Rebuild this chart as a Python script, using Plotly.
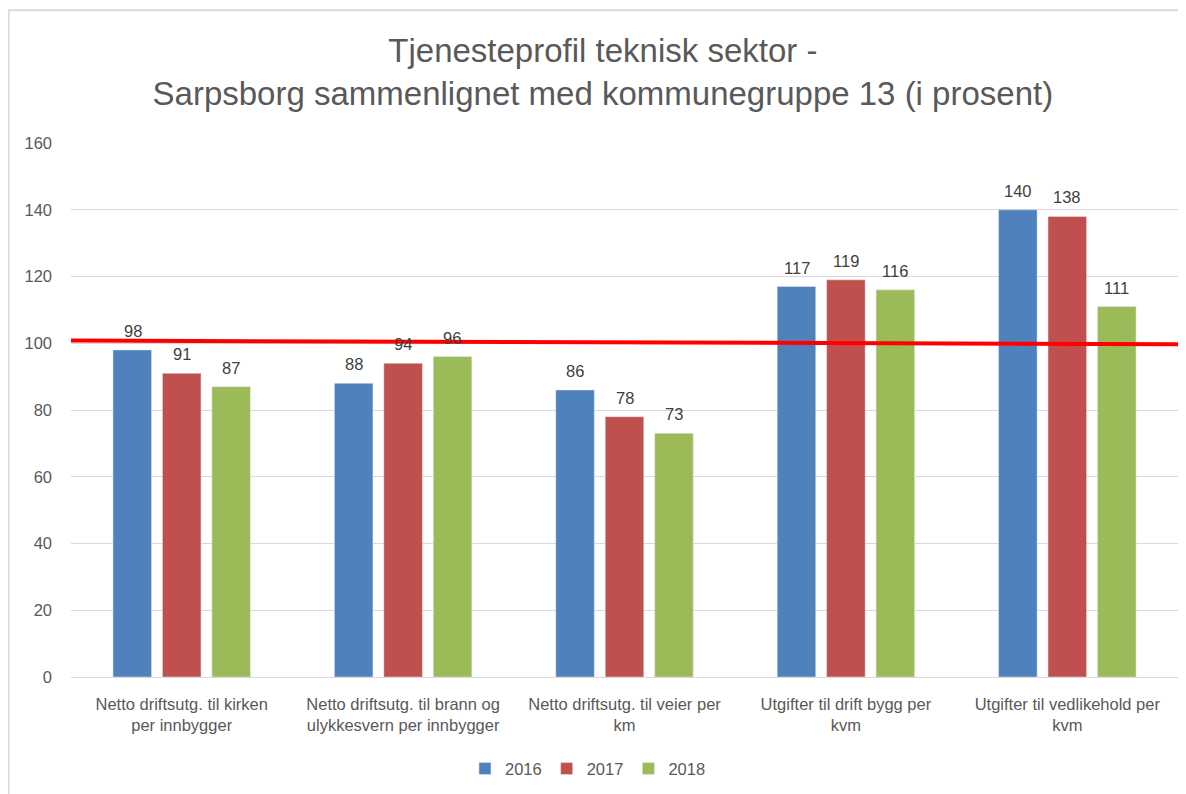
import plotly.graph_objects as go

# Data
categories = [
    "Netto driftsutg. til kirken<br>per innbygger",
    "Netto driftsutg. til brann og<br>ulykkesvern per innbygger",
    "Netto driftsutg. til veier per<br>km",
    "Utgifter til drift bygg per<br>kvm",
    "Utgifter til vedlikehold per<br>kvm",
]
years = ["2016", "2017", "2018"]
values_2016 = [98, 88, 86, 117, 140]
values_2017 = [91, 94, 78, 119, 138]
values_2018 = [87, 96, 73, 116, 111]
colors = ["#4F81BD", "#C0504D", "#9BBB59"]

# hand-drawn reference line (left end, right end), roughly at 100
red_line_y = [100.8, 99.7]

fig = go.Figure()

series = [values_2016, values_2017, values_2018]
for year, vals, col in zip(years, series, colors):
    fig.add_trace(go.Bar(
        x=categories,
        y=vals,
        name=year,
        marker_color=col,
    ))

# value labels, sitting a bit higher above the bars than plotly's default
slot_px = 49.1
for i, vals in enumerate(series):
    for cat, v in zip(categories, vals):
        fig.add_annotation(
            x=cat, y=v, xref="x", yref="y",
            text=str(v), showarrow=False,
            xshift=(i - 1) * slot_px, yshift=8,
            yanchor="bottom",
            font=dict(size=16.5, color="#404040"),
        )

# red reference line
fig.add_shape(type="line", xref="paper", yref="y",
              x0=0.0, x1=1.005, y0=red_line_y[0], y1=red_line_y[1],
              line=dict(color="#FF0000", width=4))

# outer chart border (top and left visible)
fig.add_shape(type="rect", xref="paper", yref="paper",
              x0=-0.0564, x1=1.2, y0=-0.6, y1=1.2486,
              line=dict(color="#D9D9D9", width=2), layer="below")

# page body has an 8px margin, so the figure is sized 8px smaller
fig.update_layout(
    width=1178,
    height=786,
    margin=dict(l=63, r=8, t=135, b=108),
    paper_bgcolor="white",
    plot_bgcolor="white",
    font=dict(family="Liberation Sans, Arial, sans-serif", color="#595959"),
    title=dict(
        text="Tjenesteprofil teknisk sektor -<br>Sarpsborg sammenlignet med kommunegruppe 13 (i prosent)",
        x=0.505, xanchor="center", xref="container",
        y=0.931, yanchor="middle", yref="container",
        font=dict(size=33, color="#595959"),
    ),
    barmode="group",
    bargap=0.33,
    bargroupgap=0.22,
    legend=dict(
        orientation="h",
        x=0.467, xanchor="center",
        y=-0.172, yanchor="middle",
        font=dict(size=16.5, color="#595959"),
        itemwidth=30,
    ),
    showlegend=True,
)

fig.update_yaxes(
    range=[0, 160],
    dtick=20,
    showgrid=True,
    gridcolor="#D9D9D9",
    gridwidth=1,
    zeroline=True,
    zerolinecolor="#D9D9D9",
    zerolinewidth=1,
    tickfont=dict(size=16.5, color="#595959"),
    ticks="",
    ticklabelstandoff=18,
)
fig.update_xaxes(
    showline=True,
    linecolor="#D9D9D9",
    tickfont=dict(size=16.5, color="#595959"),
    ticks="",
    tickangle=0,
    ticklabelstandoff=12,
)

fig.write_html("out.html")
